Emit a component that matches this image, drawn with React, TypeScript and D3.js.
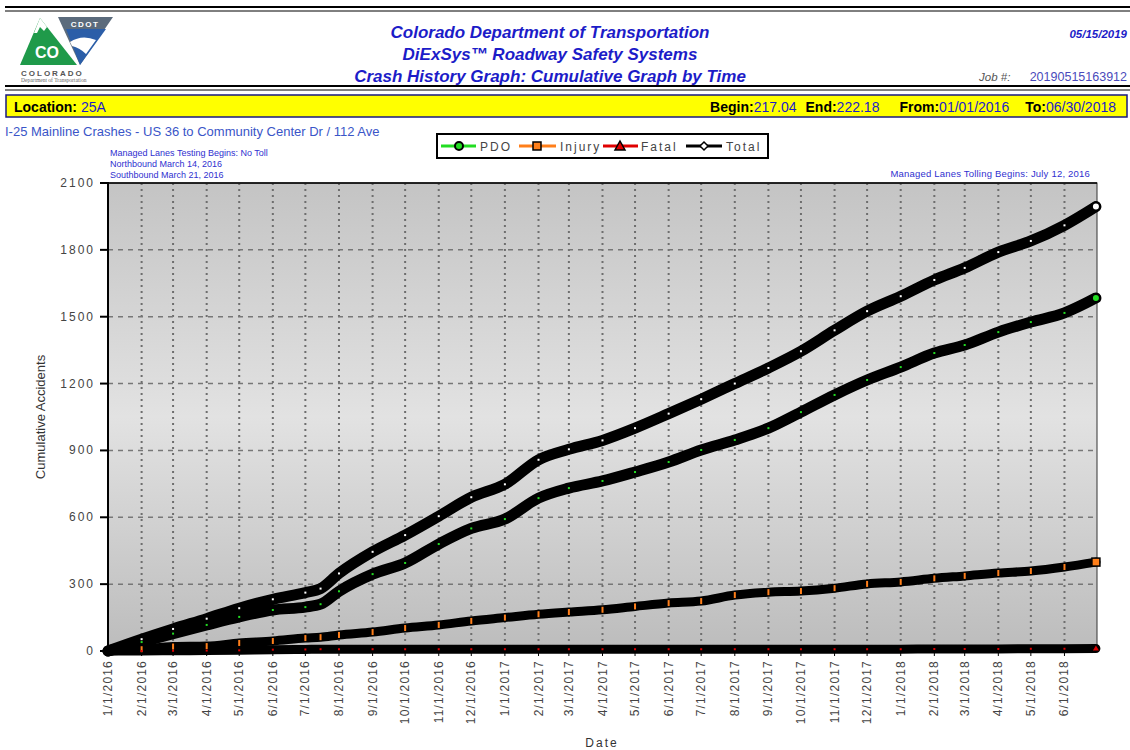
import React from "react";
import * as d3 from "d3";

const dates = [
  "2016-01-01", "2016-02-01", "2016-03-01", "2016-04-01", "2016-05-01", "2016-06-01",
  "2016-07-01", "2016-07-15", "2016-08-01", "2016-09-01", "2016-10-01", "2016-11-01",
  "2016-12-01", "2017-01-01", "2017-02-01", "2017-03-01", "2017-04-01", "2017-05-01",
  "2017-06-01", "2017-07-01", "2017-08-01", "2017-09-01", "2017-10-01", "2017-11-01",
  "2017-12-01", "2018-01-01", "2018-02-01", "2018-03-01", "2018-04-01", "2018-05-01",
  "2018-06-01", "2018-06-30",
];
const pdo = [
  0, 40, 78, 117, 153, 184, 197, 210, 268, 345, 395, 480, 550, 592, 686, 731,
  763, 803, 848, 902, 947, 1000, 1072, 1149, 1216, 1274, 1337, 1373, 1431, 1476,
  1517, 1584,
];
const injury = [
  0, 8, 20, 22, 36, 45, 58, 62, 72, 85, 103, 117, 135, 150, 165, 175, 185, 200,
  215, 224, 251, 264, 269, 282, 301, 310, 326, 337, 350, 359, 377, 399,
];
const fatal = [
  0, 0, 1, 2, 3, 6, 7, 8, 8, 8, 8, 8, 8, 8, 8, 8, 8, 8, 8, 8, 8, 8, 8, 8, 8, 8,
  9, 9, 9, 10, 10, 11,
];
const total = [
  0, 53, 99, 145, 192, 232, 262, 280, 348, 445, 520, 605, 690, 748, 858, 905,
  945, 1000, 1065, 1130, 1200, 1270, 1345, 1439, 1525, 1592, 1665, 1719, 1790,
  1840, 1910, 1994,
];
const yTicks = [0, 300, 600, 900, 1200, 1500, 1800, 2100];

const FONT = "Arial, 'Liberation Sans', sans-serif";
const parse = d3.timeParse("%Y-%m-%d");
const fmt = d3.timeFormat("%-m/%-d/%Y");

const App: React.FC = () => {
  const W = 1130, H = 750;
  const plot = { left: 108, right: 1097, top: 183, bottom: 651 };

  const x = d3.scaleTime()
    .domain([parse("2016-01-01")!, parse("2018-07-01")!])
    .range([plot.left, plot.right]);
  const y = d3.scaleLinear().domain([0, 2100]).range([plot.bottom, plot.top]);
  const xTicks = d3.timeMonth.range(parse("2016-01-01")!, parse("2018-06-02")!);
  const ds = dates.map((d) => parse(d)!);

  const line = d3.line<number>()
    .x((_, i) => x(ds[i]))
    .y((v) => y(v))
    .curve(d3.curveMonotoneX);

  const series = [
    { key: "Injury", vals: injury, color: "#ff7f1a", w: 9 },
    { key: "Fatal", vals: fatal, color: "#e00000", w: 9 },
    { key: "PDO", vals: pdo, color: "#22dd22", w: 11 },
    { key: "Total", vals: total, color: "#ffffff", w: 11 },
  ];

  const blue = "#1c1cc8";
  const last = ds.length - 1;

  return (
    <svg width={W} height={H} style={{ position: "absolute", left: 0, top: 0, background: "#fff" }}
      fontFamily={FONT}>
      <defs>
        <linearGradient id="bg" x1="0" y1="0" x2="0" y2="1">
          <stop offset="0%" stopColor="#c4c4c4" />
          <stop offset="50%" stopColor="#e2e2e2" />
          <stop offset="100%" stopColor="#bcbcbc" />
        </linearGradient>
      </defs>

      {/* header rules */}
      <line x1={5} x2={1130} y1={7} y2={7} stroke="#000" strokeWidth={2} />
      <line x1={5} x2={1130} y1={11} y2={11} stroke="#000" strokeWidth={1} />
      <line x1={5} x2={1130} y1={86} y2={86} stroke="#000" strokeWidth={2} />
      <line x1={5} x2={1130} y1={90} y2={90} stroke="#000" strokeWidth={1} />

      {/* logo */}
      <g>
        <path d="M20,65 L40,18 L77,65 Z" fill="#1f9a4a" />
        <path d="M34,33 L40,18 L47,27 L44,31 L40,27 L37,33 Z" fill="#fff" />
        <text x={47} y={58} textAnchor="middle" fontSize={16} fontWeight="bold" fill="#fff">CO</text>
        <path d="M58,17 L113,17 L80,65 Z" fill="#5b6b7c" />
        <path d="M66,29 L106,29 L80,65 Z" fill="#2b5ea8" />
        <path d="M70,42 Q82,34 96,40 L86,54 Q80,48 72,46 Z" fill="#fff" />
        <text x={85} y={27} textAnchor="middle" fontSize={8} fontWeight="bold" fill="#fff" letterSpacing={1.5}>CDOT</text>
        <text x={21} y={76} fontSize={8} fontWeight="bold" fill="#555" letterSpacing={2}>COLORADO</text>
        <text x={21} y={82} fontSize={5.5} fill="#666" fontFamily="'Liberation Serif', serif">Department of Transportation</text>
      </g>

      {/* titles */}
      <g fill={blue} fontWeight="bold" fontStyle="italic" fontSize={17} textAnchor="middle">
        <text x={550} y={38}>Colorado Department of Transportation</text>
        <text x={550} y={60}>DiExSys™ Roadway Safety Systems</text>
        <text x={550} y={82}>Crash History Graph: Cumulative Graph by Time</text>
      </g>
      <text x={1127} y={38} textAnchor="end" fontSize={11.5} fontWeight="bold" fontStyle="italic" fill={blue}>05/15/2019</text>
      <text x={979} y={81} fontSize={11.5} fontStyle="italic" fill="#555">Job #:</text>
      <text x={1127} y={81} textAnchor="end" fontSize={12.5} fill="#4a4abb">20190515163912</text>

      {/* location bar */}
      <rect x={6} y={95} width={1121} height={22} fill="#ffff00" stroke="#1a1a80" strokeWidth={1.5} />
      <text x={14} y={112} fontSize={14}>
        <tspan fontWeight="bold" fill="#000">Location: </tspan>
        <tspan fill={blue}>25A</tspan>
      </text>
      <text x={1116} y={112} fontSize={14} textAnchor="end">
        <tspan fontWeight="bold" fill="#000">Begin:</tspan>
        <tspan fill={blue}>217.04</tspan>
        <tspan fontWeight="bold" fill="#000" dx={9}>End:</tspan>
        <tspan fill={blue}>222.18</tspan>
        <tspan fontWeight="bold" fill="#000" dx={20}>From:</tspan>
        <tspan fill={blue}>01/01/2016</tspan>
        <tspan fontWeight="bold" fill="#000" dx={16}>To:</tspan>
        <tspan fill={blue}>06/30/2018</tspan>
      </text>

      <text x={5} y={136} fontSize={13} fill="#3a55c8">I-25 Mainline Crashes - US 36 to Community Center Dr / 112 Ave</text>
      <g fontSize={9} fill="#3030d0" fontFamily="'Liberation Sans Narrow', Arial, sans-serif">
        <text x={110} y={156}>Managed Lanes Testing Begins:  No Toll</text>
        <text x={110} y={167}>Northbound March 14, 2016</text>
        <text x={110} y={178}>Southbound March 21, 2016</text>
        <text x={1090} y={177} textAnchor="end" fontSize={9.5} letterSpacing={0.2}>Managed Lanes Tolling Begins:  July 12, 2016</text>
      </g>

      {/* legend */}
      <g>
        <rect x={437} y={134} width={331} height={24} fill="#fff" stroke="#000" strokeWidth={2} />
        <line x1={441} x2={476} y1={146} y2={146} stroke="#22dd22" strokeWidth={3} />
        <circle cx={459} cy={146} r={4} fill="#22dd22" stroke="#000" strokeWidth={2} />
        <text x={480} y={151} fontSize={12} fill="#444" letterSpacing={2}>PDO</text>
        <line x1={519} x2={556} y1={146} y2={146} stroke="#ff7f1a" strokeWidth={3} />
        <rect x={533} y={142} width={8} height={8} fill="#ff7f1a" stroke="#000" strokeWidth={1.5} />
        <text x={560} y={151} fontSize={12} fill="#444" letterSpacing={2}>Injury</text>
        <line x1={603} x2={638} y1={146} y2={146} stroke="#e00000" strokeWidth={3} />
        <path d="M620,141 L625,150 L615,150 Z" fill="#e00000" stroke="#000" strokeWidth={1.5} />
        <text x={641} y={151} fontSize={12} fill="#444" letterSpacing={2}>Fatal</text>
        <line x1={686} x2={722} y1={146} y2={146} stroke="#000" strokeWidth={3} />
        <path d="M704,142 L708,146 L704,150 L700,146 Z" fill="#fff" stroke="#000" strokeWidth={1.5} />
        <text x={726} y={151} fontSize={12} fill="#444" letterSpacing={2}>Total</text>
      </g>

      {/* plot area */}
      <rect x={plot.left} y={plot.top} width={plot.right - plot.left} height={plot.bottom - plot.top}
        fill="url(#bg)" stroke="#333" strokeWidth={1} />
      {xTicks.slice(1).map((d, i) => (
        <line key={"vg" + i} x1={x(d)} x2={x(d)} y1={plot.top} y2={plot.bottom}
          stroke="#6e6e6e" strokeWidth={2} strokeDasharray="2,4" />
      ))}
      {yTicks.slice(1, -1).map((v) => (
        <line key={"hg" + v} x1={plot.left} x2={plot.right} y1={y(v)} y2={y(v)}
          stroke="#777" strokeWidth={1.5} strokeDasharray="5,5" />
      ))}
      <line x1={plot.left} x2={plot.left} y1={plot.top - 1} y2={plot.bottom + 4} stroke="#000" strokeWidth={2} />
      <line x1={plot.left} x2={plot.right} y1={plot.top} y2={plot.top} stroke="#000" strokeWidth={1.5} />

      {/* y axis */}
      {yTicks.map((v) => (
        <g key={"yt" + v}>
          <line x1={100} x2={plot.left} y1={y(v)} y2={y(v)} stroke="#000" strokeWidth={2} />
          <text x={95} y={y(v) + 4} textAnchor="end" fontSize={12} fill="#444" letterSpacing={2}>{v}</text>
        </g>
      ))}
      <text transform={`translate(45,${(plot.top + plot.bottom) / 2}) rotate(-90)`} textAnchor="middle"
        fontSize={13} fill="#333">Cumulative Accidents</text>

      {/* x axis */}
      {xTicks.map((d, i) => (
        <g key={"xt" + i}>
          <line x1={x(d)} x2={x(d)} y1={plot.bottom} y2={plot.bottom + 5} stroke="#000" strokeWidth={1} />
          <text transform={`translate(${x(d) + 4},${plot.bottom + 9}) rotate(-90)`} textAnchor="end"
            fontSize={12} fill="#444" letterSpacing={1.2}>{fmt(d)}</text>
        </g>
      ))}
      <text x={602} y={747} textAnchor="middle" fontSize={12} fill="#333" letterSpacing={2}>Date</text>

      {/* series bands */}
      {series.map((s) => (
        <path key={s.key} d={line(s.vals) || ""} fill="none" stroke="#000" strokeWidth={s.w}
          strokeLinecap="round" strokeLinejoin="round" />
      ))}
      {series.map((s) =>
        s.vals.map((v, i) =>
          i === 0 || i === last ? null : (
            <rect key={s.key + i} x={x(ds[i]) - 1} y={y(v) - (s.key === "Injury" ? 3 : 1)}
              width={2} height={s.key === "Injury" ? 6 : 2} fill={s.color} />
          )
        )
      )}

      {/* end markers */}
      <circle cx={x(ds[last])} cy={y(total[last])} r={4} fill="#fff" stroke="#000" strokeWidth={2} />
      <circle cx={x(ds[last])} cy={y(pdo[last])} r={4} fill="#22dd22" stroke="#000" strokeWidth={2} />
      <rect x={x(ds[last]) - 4} y={y(injury[last]) - 4} width={8} height={8} fill="#ff7f1a" stroke="#000" strokeWidth={1.5} />
      <path d={`M${x(ds[last])},${y(fatal[last]) - 3} l3,5 l-6,0 Z`} fill="#e00000" />
    </svg>
  );
};

export default App;
